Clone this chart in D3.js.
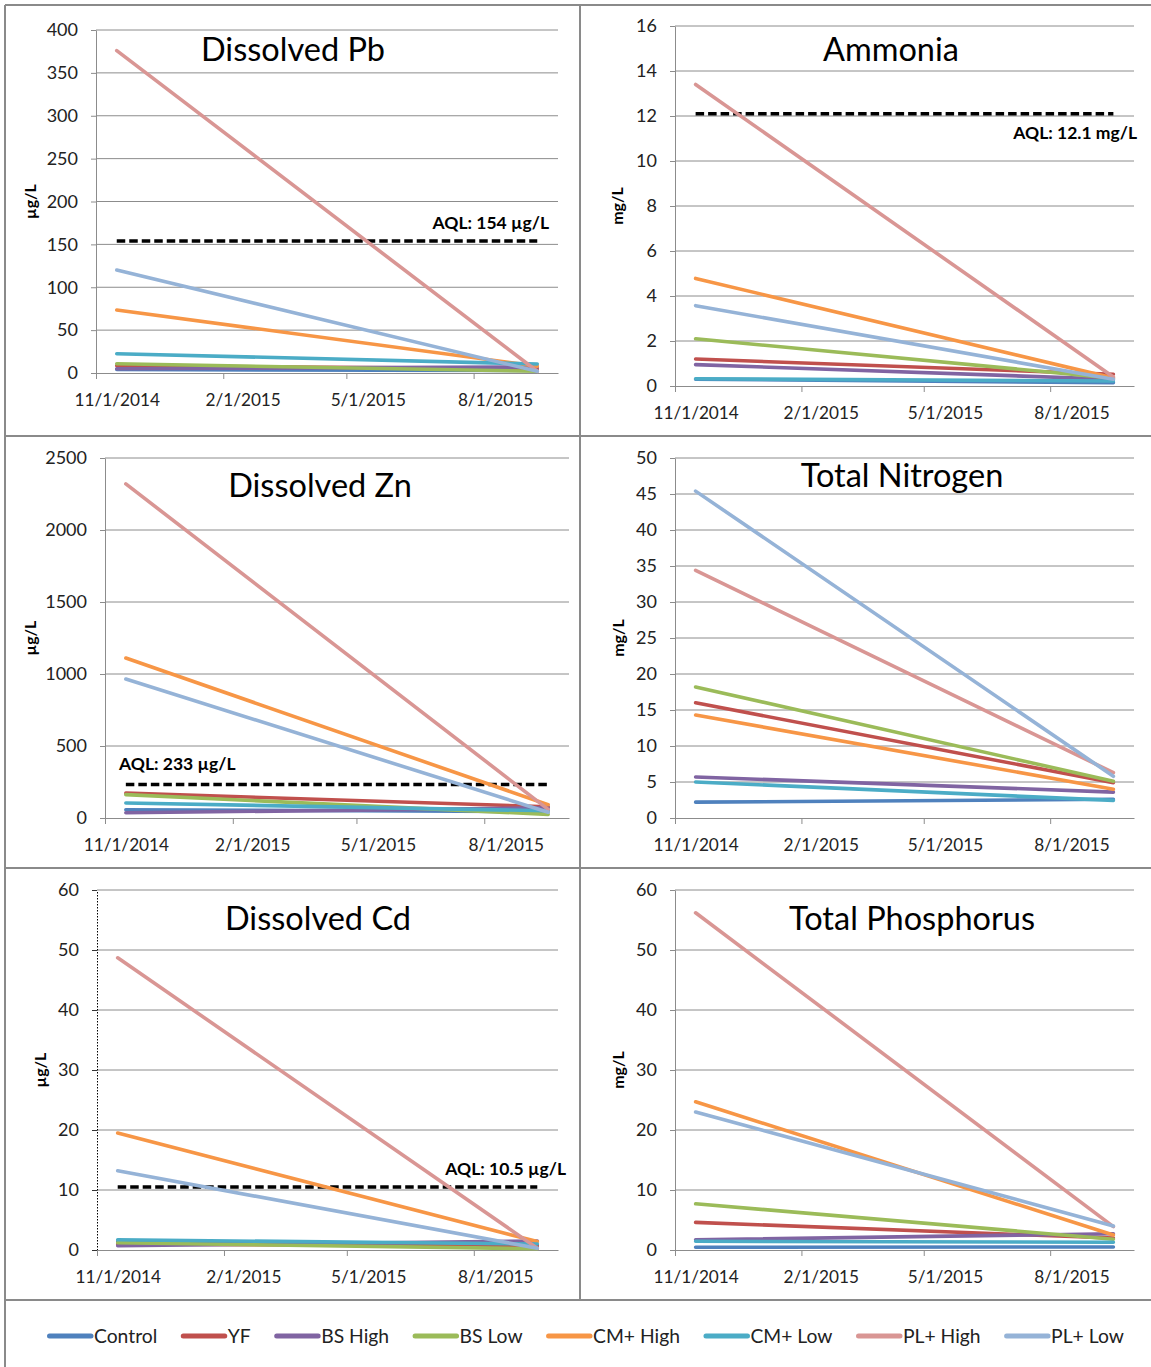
<!DOCTYPE html>
<html>
<head>
<meta charset="utf-8">
<script src="https://cdnjs.cloudflare.com/ajax/libs/d3/7.8.5/d3.min.js"></script>
<style>
body { margin: 0; background: #fff; }
svg { font-family: Lato, "Open Sans", sans-serif; }
</style>
</head>
<body>
<svg id="chart" width="1151" height="1367"></svg>
<script>
// series and their colours
var seriesNames = ["Control", "YF", "BS High", "BS Low", "CM+ High", "CM+ Low", "PL+ High", "PL+ Low"];
var seriesColors = ["#4f81bd", "#c0504d", "#8064a2", "#9bbb59", "#f79646", "#4bacc6", "#d99694", "#95b3d7"];

// sampling months and axis labels
var sampleDates = ["11/1/2014", "9/1/2015"];
var tickDates = ["11/1/2014", "2/1/2015", "5/1/2015", "8/1/2015"];
var axisRange = ["11/1/2014", "10/1/2015"];

// values per series, [first sample, second sample]
var pbValues = [[4, 3], [8.5, 5], [5, 7], [10.8, 2], [73.5, 8], [22.5, 10.5], [376, 2], [120, 2]];
var ammoniaValues = [[0.3, 0.15], [1.2, 0.52], [0.95, 0.3], [2.1, 0.35], [4.78, 0.35], [0.32, 0.22], [13.4, 0.4], [3.57, 0.3]];
var znValues = [[57, 45], [173, 78], [36, 70], [162, 25], [1111, 92], [104, 50], [2320, 60], [965, 40]];
var nitrogenValues = [[2.2, 2.6], [16.0, 4.9], [5.7, 3.6], [18.2, 5.1], [14.3, 4.0], [5.0, 2.45], [34.4, 6.3], [45.4, 5.8]];
var cdValues = [[1.4, 0.8], [1.0, 0.7], [0.7, 1.5], [1.2, 0.2], [19.5, 1.4], [1.7, 1.0], [48.7, 0.3], [13.2, 0.3]];
var phosphorusValues = [[0.45, 0.5], [4.6, 2.0], [1.7, 2.7], [7.7, 1.8], [24.7, 2.5], [1.45, 1.3], [56.2, 3.9], [23.0, 4.0]];

var panelTitles = ["Dissolved Pb", "Ammonia", "Dissolved Zn", "Total Nitrogen", "Dissolved Cd", "Total Phosphorus"];
var panelUnits = ["µg/L", "mg/L", "µg/L", "mg/L", "µg/L", "mg/L"];
var panelValues = [pbValues, ammoniaValues, znValues, nitrogenValues, cdValues, phosphorusValues];
var yMaxima = [400, 16, 2500, 50, 60, 60];
var yTickSteps = [50, 2, 500, 5, 10, 10];
var aqlValues = [154, 12.1, 233, null, 10.5, null];
var aqlLabels = ["AQL: 154 µg/L", "AQL: 12.1 mg/L", "AQL: 233 µg/L", null, "AQL: 10.5 µg/L", null];

// layout of the six panels
var plots = [
    { l: 96, r: 558, t: 30, b: 373 },
    { l: 675, r: 1134, t: 26, b: 386 },
    { l: 105, r: 569, t: 458, b: 818 },
    { l: 675, r: 1134, t: 458, b: 818 },
    { l: 97, r: 558, t: 890, b: 1250 },
    { l: 675, r: 1134, t: 890, b: 1250 }
];
var titlePos = [[293, 61], [891, 61], [320, 497], [902, 487], [318, 930], [912, 930]];
var unitX = [30, 617, 30, 618, 40, 618];
// aql label: anchor, x, offset from line
var aqlLabelPos = [["end", 549, -12], ["end", 1137, 25], ["start", 119, -14], null, ["end", 566, -12], null];

var parseDate = d3.timeParse("%m/%d/%Y");
var svg = d3.select("#chart");

// cell borders
var borderColor = "#8a8a8a";
[[5, 5, 1151, 5], [5, 5, 5, 1367], [580, 5, 580, 1300], [5, 436, 1151, 436], [5, 868, 1151, 868], [5, 1300, 1151, 1300]]
    .forEach(function (b) {
        svg.append("line")
            .attr("x1", b[0]).attr("y1", b[1]).attr("x2", b[2]).attr("y2", b[3])
            .attr("stroke", borderColor).attr("stroke-width", 2);
    });

function midMonth(x, d) {
    return x(d) + (x(d3.timeMonth.offset(d, 1)) - x(d)) / 2;
}

panelValues.forEach(function (values, p) {
    var box = plots[p];
    var x = d3.scaleTime()
        .domain(axisRange.map(parseDate))
        .range([box.l, box.r]);
    var y = d3.scaleLinear()
        .domain([0, yMaxima[p]])
        .range([box.b, box.t]);
    var yTicks = d3.range(0, yMaxima[p] + yTickSteps[p] / 2, yTickSteps[p]);

    var g = svg.append("g");

    // gridlines
    g.append("g").selectAll("line")
        .data(yTicks.slice(1))
        .enter().append("line")
        .attr("x1", box.l).attr("x2", box.r)
        .attr("y1", function (d) { return y(d); })
        .attr("y2", function (d) { return y(d); })
        .attr("stroke", "#8c8c8c").attr("stroke-width", 1);

    // y axis
    var yAxis = g.append("g")
        .attr("transform", "translate(" + box.l + ",0)")
        .call(d3.axisLeft(y).tickValues(yTicks).tickFormat(d3.format("d"))
            .tickSizeInner(5).tickSizeOuter(0).tickPadding(13));
    yAxis.attr("font-family", null);
    yAxis.selectAll("text").attr("font-size", 18).attr("fill", "#222");
    if (p === 4) {
        yAxis.select(".domain").attr("stroke", "#000").attr("stroke-dasharray", "1.5,1.5");
        yAxis.selectAll(".tick line").attr("stroke", "#333");
    } else {
        yAxis.select(".domain").attr("stroke", "#8c8c8c");
        yAxis.selectAll(".tick line").attr("stroke", "#8c8c8c");
    }

    // x axis
    var xAxis = g.append("g")
        .attr("transform", "translate(0," + box.b + ")")
        .call(d3.axisBottom(x).tickValues(tickDates.map(parseDate)).tickSizeInner(6).tickSizeOuter(0).tickPadding(15));
    xAxis.attr("font-family", null);
    xAxis.select(".domain").attr("stroke", "#8c8c8c");
    xAxis.selectAll(".tick line").attr("stroke", "#8c8c8c");
    xAxis.selectAll(".tick text")
        .attr("font-size", 17.2).attr("fill", "#222")
        .attr("x", function (d) { return midMonth(x, d) - x(d); })
        .text(function (d) { return d3.timeFormat("%-m/%-d/%Y")(d); });

    // aql line
    if (aqlValues[p] !== null) {
        var xs = sampleDates.map(function (d) { return midMonth(x, parseDate(d)); });
        g.append("line")
            .attr("x1", xs[0]).attr("x2", xs[1])
            .attr("y1", y(aqlValues[p])).attr("y2", y(aqlValues[p]))
            .attr("stroke", "#000").attr("stroke-width", 3.5)
            .attr("stroke-dasharray", "8.5,4");
        var lp = aqlLabelPos[p];
        g.append("text")
            .attr("x", lp[1])
            .attr("y", y(aqlValues[p]) + lp[2])
            .attr("text-anchor", lp[0])
            .attr("font-size", 17.5).attr("font-weight", "bold")
            .text(aqlLabels[p]);
    }

    // series lines
    var line = d3.line()
        .x(function (d, i) { return midMonth(x, parseDate(sampleDates[i])); })
        .y(function (d) { return y(d); });
    g.append("g").selectAll("path")
        .data(values)
        .enter().append("path")
        .attr("d", function (d) { return line(d); })
        .attr("fill", "none")
        .attr("stroke", function (d, i) { return seriesColors[i]; })
        .attr("stroke-width", 3.6)
        .attr("stroke-linecap", "round");

    // title
    g.append("text")
        .attr("x", titlePos[p][0]).attr("y", titlePos[p][1])
        .attr("text-anchor", "middle")
        .attr("font-size", 32.5)
        .text(panelTitles[p]);

    // unit label
    var cy = (box.t + box.b) / 2;
    g.append("text")
        .attr("transform", "translate(" + unitX[p] + "," + cy + ") rotate(-90)")
        .attr("text-anchor", "middle")
        .attr("dy", "0.35em")
        .attr("font-size", 16).attr("font-weight", "bold")
        .text(panelUnits[p]);
});

// legend
var legend = svg.append("g").attr("transform", "translate(47,1336)");
var lx = 0;
seriesNames.forEach(function (name, i) {
    var item = legend.append("g").attr("transform", "translate(" + lx + ",0)");
    item.append("line")
        .attr("x1", 2.5).attr("x2", 44)
        .attr("stroke", seriesColors[i]).attr("stroke-width", 5)
        .attr("stroke-linecap", "round");
    var t = item.append("text")
        .attr("x", 47).attr("dy", "0.35em")
        .attr("font-size", 19.3).attr("fill", "#222")
        .text(name);
    lx += 47 + t.node().getComputedTextLength() + 23.5;
});
</script>
</body>
</html>
